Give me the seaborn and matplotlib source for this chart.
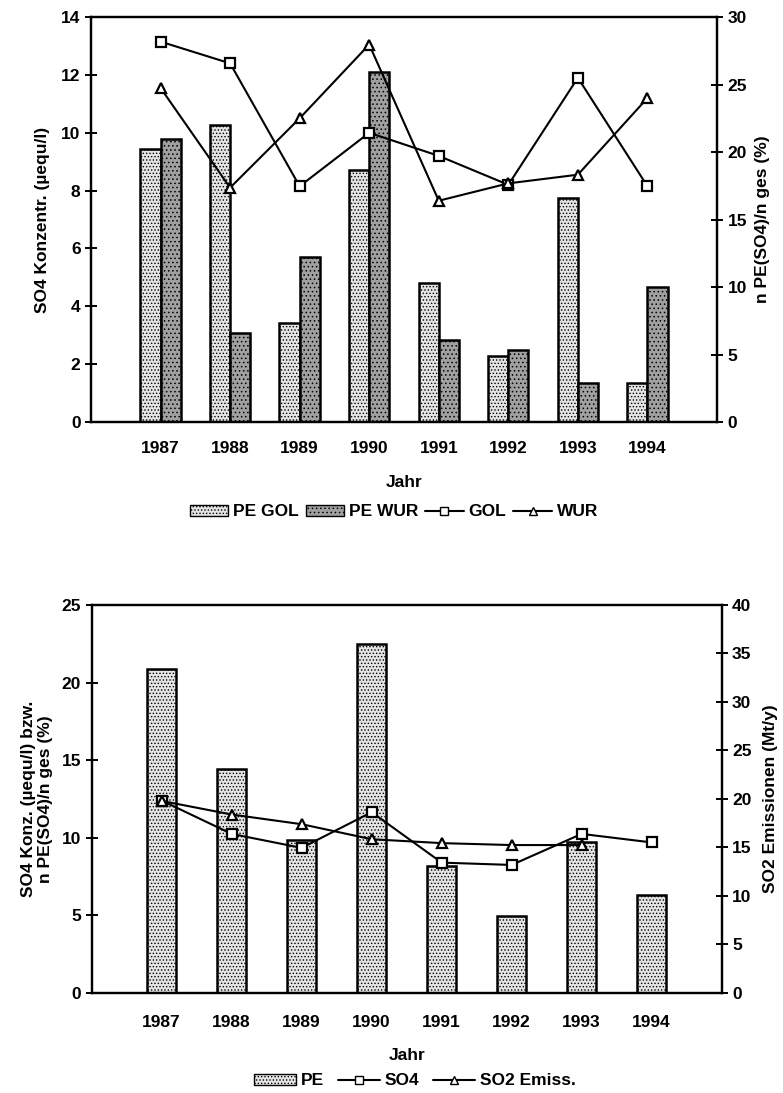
import numpy as np
import pandas as pd
import matplotlib
matplotlib.use('Agg')
import matplotlib.pyplot as plt
from matplotlib.patches import Patch
from matplotlib.lines import Line2D
import seaborn as sns

# data
years = ['1987', '1988', '1989', '1990', '1991', '1992', '1993', '1994']

# top chart: bars = n PE(SO4)/n ges (%) (right axis), lines = SO4 conc. (left axis)
pe_gol = [20.2, 22.0, 7.3, 18.7, 10.3, 4.9, 16.6, 2.9]
pe_wur = [21.0, 6.6, 12.2, 25.9, 6.1, 5.3, 2.9, 10.0]
so4_gol = [13.15, 12.4, 8.15, 10.0, 9.2, 8.2, 11.9, 8.15]
so4_wur = [11.55, 8.1, 10.5, 13.05, 7.65, 8.25, 8.55, 11.2]

# bottom chart: bars PE and line SO4 (left axis), SO2 emissions (right axis)
pe_all = [20.85, 14.45, 9.85, 22.5, 8.2, 4.95, 9.75, 6.3]
so4_all = [12.4, 10.25, 9.35, 11.65, 8.4, 8.25, 10.25, 9.7]
so2_emiss = [19.8, 18.4, 17.4, 15.85, 15.45, 15.25, 15.25, np.nan]

sns.set_style('white')
plt.rcParams['font.family'] = ['Liberation Sans', 'DejaVu Sans']
plt.rcParams['font.weight'] = 'bold'
plt.rcParams['axes.labelweight'] = 'bold'
plt.rcParams['text.color'] = 'black'
plt.rcParams['axes.labelcolor'] = 'black'
plt.rcParams['xtick.color'] = 'black'
plt.rcParams['ytick.color'] = 'black'
plt.rcParams['hatch.linewidth'] = 0.6
FS = 12.5
LIGHT = '#e4e4e4'
DARK = '#a0a0a0'

fig = plt.figure(figsize=(7.83, 10.93), dpi=100)


def style_axis(a, side, xpad):
    for s in a.spines.values():
        s.set_color('black')
        s.set_linewidth(1.6)
    a.tick_params(axis='y', which='both', direction='inout', length=9, width=1.4,
                  labelsize=FS, colors='black', pad=3,
                  left=(side == 'left'), right=(side == 'right'),
                  labelleft=(side == 'left'), labelright=(side == 'right'))
    a.tick_params(axis='x', direction='inout', length=9, width=1.4, labelsize=FS, pad=xpad)


def line_series(a, vals, marker):
    sns.pointplot(x=years, y=vals, ax=a, color='black', marker=marker,
                  linestyle='-', errorbar=None, markersize=7,
                  markerfacecolor='white', markeredgecolor='black',
                  markeredgewidth=1.6, linewidth=1.5)


# ---------------- top chart ----------------
ax1 = fig.add_axes([0.1162, 0.6139, 0.7995, 0.3705])
ax1r = ax1.twinx()
df_top = pd.DataFrame({'Jahr': years * 2,
                       'val': pe_gol + pe_wur,
                       'serie': ['PE GOL'] * 8 + ['PE WUR'] * 8})
sns.barplot(data=df_top, x='Jahr', y='val', hue='serie', ax=ax1r,
            palette=[LIGHT, DARK], width=0.58, gap=0, edgecolor='black',
            linewidth=1.8, saturation=1, legend=False)
for i, p in enumerate(ax1r.patches):
    p.set_hatch('.....' if i < 8 else '....')
# lines drawn above bars
ax1.set_zorder(ax1r.get_zorder() + 1)
ax1.patch.set_visible(False)
line_series(ax1, so4_gol, 's')
line_series(ax1, so4_wur, '^')

ax1.set_ylim(0, 14)
ax1.set_yticks(range(0, 15, 2))
ax1r.set_ylim(0, 30)
ax1r.set_yticks(range(0, 31, 5))
ax1.set_xlim(-1, 8)
ax1.set_ylabel('SO4 Konzentr. (µequ/l)', fontsize=FS, labelpad=8)
ax1r.set_ylabel('n PE(SO4)/n ges (%)', fontsize=FS, labelpad=6)
ax1.set_xlabel('Jahr', fontsize=FS, labelpad=14)
ax1r.set_xlabel('')
style_axis(ax1, 'left', 9)
style_axis(ax1r, 'right', 9)

h_top = [Patch(facecolor=LIGHT, edgecolor='black', hatch='.....', label='PE GOL'),
         Patch(facecolor=DARK, edgecolor='black', hatch='....', label='PE WUR'),
         Line2D([], [], color='black', marker='s', markerfacecolor='white', markersize=6, label='GOL'),
         Line2D([], [], color='black', marker='^', markerfacecolor='white', markersize=6, label='WUR')]
fig.legend(handles=h_top, loc='center', bbox_to_anchor=(0.503, 0.5316), ncol=4,
           frameon=False, fontsize=FS, handlelength=2.2, handleheight=0.6,
           handletextpad=0.3, columnspacing=0.4)

# ---------------- bottom chart ----------------
ax2 = fig.add_axes([0.117, 0.0915, 0.8047, 0.355])
ax2r = ax2.twinx()
sns.barplot(x=years, y=pe_all, ax=ax2, color=LIGHT, width=0.41,
            edgecolor='black', linewidth=1.8, saturation=1)
for p in ax2.patches:
    p.set_hatch('.....')
line_series(ax2, so4_all, 's')
line_series(ax2r, so2_emiss, '^')

ax2.set_ylim(0, 25)
ax2.set_yticks(range(0, 26, 5))
ax2r.set_ylim(0, 40)
ax2r.set_yticks(range(0, 41, 5))
ax2.set_xlim(-1, 8)
ax2.set_ylabel('SO4 Konz. (µequ/l) bzw.\nn PE(SO4)/n ges (%)', fontsize=FS, labelpad=6)
ax2r.set_ylabel('SO2 Emissionen (Mt/y)', fontsize=FS, labelpad=8)
ax2.set_xlabel('Jahr', fontsize=FS, labelpad=13)
ax2r.set_xlabel('')
style_axis(ax2, 'left', 11)
style_axis(ax2r, 'right', 11)

h_bot = [Patch(facecolor=LIGHT, edgecolor='black', hatch='.....', label='PE'),
         Line2D([], [], color='black', marker='s', markerfacecolor='white', markersize=6, label='SO4'),
         Line2D([], [], color='black', marker='^', markerfacecolor='white', markersize=6, label='SO2 Emiss.')]
fig.legend(handles=h_bot, loc='center', bbox_to_anchor=(0.530, 0.011), ncol=3,
           frameon=False, fontsize=FS, handlelength=2.4, handleheight=0.6,
           handletextpad=0.3, columnspacing=0.8)

fig.savefig('out.png', dpi=100)
